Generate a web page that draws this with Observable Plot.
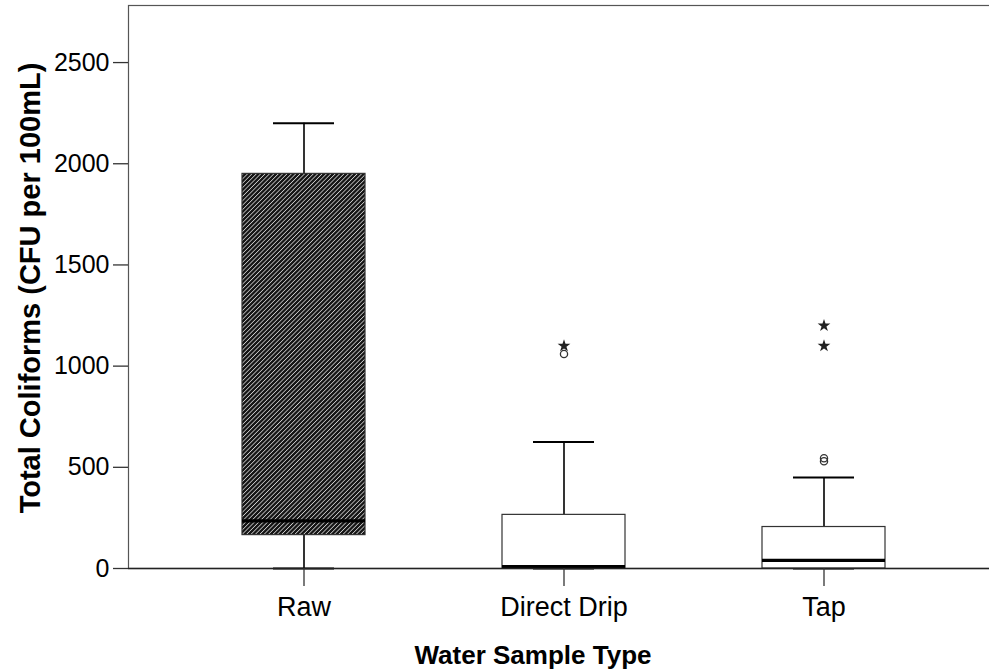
<!DOCTYPE html>
<html>
<head>
<meta charset="utf-8">
<script src="https://cdn.jsdelivr.net/npm/d3@7"></script>
<script src="https://cdn.jsdelivr.net/npm/@observablehq/plot@0.6"></script>
<style>
  html, body { margin: 0; padding: 0; background: #fff; }
  #chart svg { display: block; }
</style>
</head>
<body>
<div id="chart"></div>
<script>
// ---- Data ----
const categories   = ["Raw", "Direct Drip", "Tap"];
const q1Values     = [165, 0, 0];
const medianValues = [235, 10, 40];
const q3Values     = [1950, 265, 205];
const whiskerLow   = [0, 0, 0];
const whiskerHigh  = [2200, 625, 450];
const boxFills     = ["url(#hatch)", "white", "white"];
// outliers (circles) and extremes (stars)
const outlierGroups  = ["Direct Drip", "Tap", "Tap"];
const outlierValues  = [1060, 545, 530];
const extremeGroups  = ["Direct Drip", "Tap", "Tap"];
const extremeValues  = [1100, 1200, 1100];
const yTicks = [0, 500, 1000, 1500, 2000, 2500];
const yTitle = "Total Coliforms (CFU per 100mL)";
const xTitle = "Water Sample Type";

const boxes = categories.map((c, i) => ({
  cat: c, q1: q1Values[i], med: medianValues[i], q3: q3Values[i],
  lo: whiskerLow[i], hi: whiskerHigh[i], fill: boxFills[i]
}));
const outliers = outlierGroups.map((c, i) => ({cat: c, v: outlierValues[i]}));
const extremes = extremeGroups.map((c, i) => ({cat: c, v: extremeValues[i]}));

const font = "'Liberation Sans', Arial, sans-serif";

const plot = Plot.plot({
  width: 989,
  height: 669,
  marginLeft: 128,
  marginRight: -10,
  marginTop: 5,
  marginBottom: 101,
  style: {fontFamily: font, background: "white", color: "#000", overflow: "visible"},
  x: {type: "band", domain: categories, paddingInner: 0.528, paddingOuter: 0.436, label: null},
  y: {domain: [0, 2782], label: null},
  color: {type: "identity"},
  marks: [
    Plot.frame({stroke: "#555", strokeWidth: 1.2}),
    // whiskers
    Plot.ruleX(boxes, {x: "cat", y1: "lo", y2: "q1", stroke: "#000", strokeWidth: 1.6}),
    Plot.ruleX(boxes, {x: "cat", y1: "q3", y2: "hi", stroke: "#000", strokeWidth: 1.6}),
    Plot.tickY(boxes, {x: "cat", y: "hi", stroke: "#000", strokeWidth: 2, insetLeft: 31, insetRight: 31}),
    Plot.tickY(boxes, {x: "cat", y: "lo", stroke: "#000", strokeWidth: 2, insetLeft: 31, insetRight: 31}),
    // boxes
    Plot.barY(boxes, {x: "cat", y1: "q1", y2: "q3", fill: "fill", stroke: "#333", strokeWidth: 1.2}),
    // medians
    Plot.tickY(boxes, {x: "cat", y: "med", stroke: "#000", strokeWidth: 3.2}),
    // bottom axis line
    Plot.ruleY([0], {stroke: "#222", strokeWidth: 1.4}),
    // outliers and extremes
    Plot.dot(outliers, {x: "cat", y: "v", r: 3.6, stroke: "#333", strokeWidth: 1.3, fill: "none"}),
    Plot.dot(extremes, {x: "cat", y: "v", r: 4, symbol: "star", fill: "#222", stroke: "none"}),
    // axes
    Plot.axisY({ticks: yTicks, tickFormat: d => String(d), tickSize: 15, tickPadding: 4, fontSize: 25, stroke: "#333", strokeWidth: 1.3, label: null}),
    Plot.axisX({tickSize: 18, tickPadding: 10, fontSize: 27, stroke: "#333", strokeWidth: 1.3, label: null}),
    // titles
    Plot.text([yTitle], {frameAnchor: "left", textAnchor: "middle", lineAnchor: "middle", rotate: -90, dx: -98, dy: 1, fontSize: 29, fontWeight: "bold", fill: "#000"}),
    Plot.text([xTitle], {frameAnchor: "bottom", textAnchor: "middle", lineAnchor: "middle", dx: -31, dy: 87, fontSize: 26, fontWeight: "bold", fill: "#000"})
  ]
});

// hatch pattern definition for the Raw box
d3.select(plot).insert("defs", ":first-child").html(`
  <pattern id="hatch" patternUnits="userSpaceOnUse" width="3.1" height="3.1" patternTransform="rotate(45)">
    <rect width="3.1" height="3.1" fill="#151515"></rect>
    <line x1="0.4" y1="0" x2="0.4" y2="3.1" stroke="#d8d8d8" stroke-width="0.75"></line>
  </pattern>`);

document.getElementById("chart").appendChild(plot);
</script>
</body>
</html>
